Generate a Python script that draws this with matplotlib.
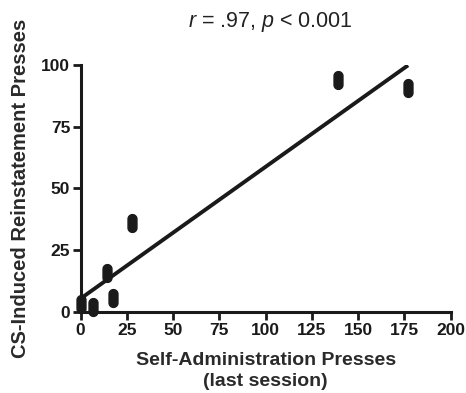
import matplotlib
matplotlib.use("Agg")
import matplotlib.pyplot as plt
import numpy as np
from matplotlib.path import Path

plt.rcParams['font.family'] = ['Liberation Sans', 'DejaVu Sans']
plt.rcParams['mathtext.fontset'] = 'custom'
plt.rcParams['mathtext.it'] = 'Liberation Sans:italic'
plt.rcParams['mathtext.rm'] = 'Liberation Sans'

# data
sa_presses = [0, 6.5, 14, 17.5, 28, 139, 177]
cs_presses = [2.9, 1.8, 15.7, 5.6, 35.9, 93.7, 90.8]
fit_intercept = 5.3
fit_slope = 0.534
x_ticks = [0, 25, 50, 75, 100, 125, 150, 175, 200]
y_ticks = [0, 25, 50, 75, 100]
title_text = r"$r$ = .97, $p$ < 0.001"

# stadium-shaped marker (vertical oval)
t = np.linspace(0, np.pi, 20)
top = np.column_stack([0.5*np.cos(t), 0.5 + 0.5*np.sin(t)])
bot = np.column_stack([-0.5*np.cos(t), -0.5 - 0.5*np.sin(t)])
verts = np.vstack([top, bot, top[:1]])
stadium = Path(verts, closed=True)

fig = plt.figure(figsize=(4.66, 3.93), dpi=100)
ax = fig.add_axes([0.173, 0.207, 0.794, 0.628])

xfit = np.array([0, max(sa_presses)])
ax.plot(xfit, fit_intercept + fit_slope * xfit, color='#1a1a1a', lw=2.8, solid_capstyle='butt', zorder=2)
ax.plot(sa_presses, cs_presses, linestyle='none', marker=stadium, markersize=12.8,
        color='#1a1a1a', clip_on=False, zorder=3)

ax.set_xlim(0, 200)
ax.set_ylim(0, 100)
ax.set_xticks(x_ticks)
ax.set_yticks(y_ticks)
for s in ['top', 'right']:
    ax.spines[s].set_visible(False)
for s in ['left', 'bottom']:
    ax.spines[s].set_linewidth(2.2)
    ax.spines[s].set_color('#1a1a1a')
    ax.spines[s].set_capstyle('projecting')
ax.tick_params(direction='out', length=5.5, width=2.0, colors='#1a1a1a',
               labelsize=12.5)
ax.tick_params(axis='x', pad=3)
ax.tick_params(axis='y', pad=2)
for lbl in ax.get_xticklabels() + ax.get_yticklabels():
    lbl.set_fontweight('bold')

ax.set_xlabel("Self-Administration Presses\n(last session)", fontsize=14,
              fontweight='bold', color='#2a2a2a', labelpad=10, linespacing=1.25)
ax.set_ylabel("CS-Induced Reinstatement Presses", fontsize=14.5,
              fontweight='bold', color='#2a2a2a', labelpad=8)
fig.text(0.581, 0.944, title_text, ha='center', va='center', fontsize=15.5, color='#222222')

fig.savefig("out.png", dpi=100)
